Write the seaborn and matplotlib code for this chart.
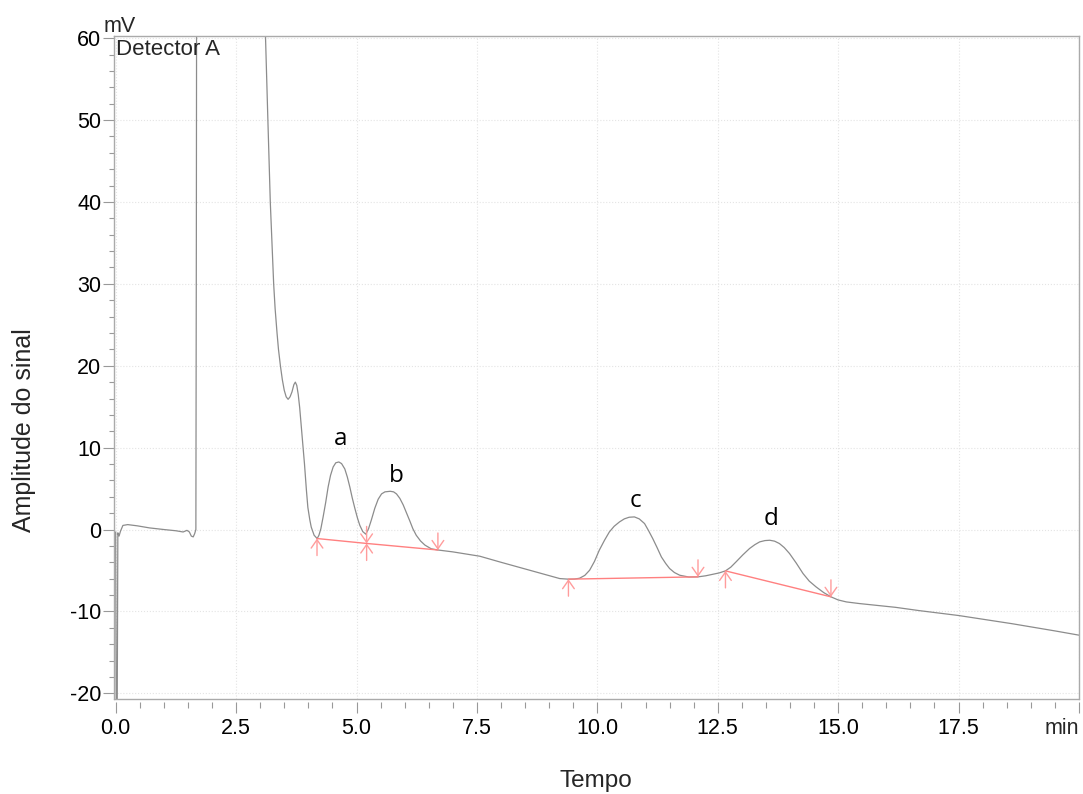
import matplotlib
matplotlib.use("Agg")
import matplotlib.pyplot as plt
from matplotlib.ticker import MultipleLocator
import seaborn as sns

# retention time (min) and detector signal (mV)
time_min = [0.000, 0.012, 0.030, 0.045, 0.070, 0.100, 0.150, 0.250, 0.450, 0.700,
            1.000, 1.250, 1.400, 1.480, 1.530, 1.570, 1.610, 1.640, 1.665, 1.675,
            1.690, 2.300, 3.050, 3.110, 3.135, 3.160, 3.185, 3.210, 3.245, 3.280,
            3.310, 3.350, 3.380, 3.420, 3.460, 3.500, 3.540, 3.580, 3.620, 3.660,
            3.700, 3.730, 3.760, 3.790, 3.820, 3.870, 3.920, 3.960, 3.990, 4.030,
            4.060, 4.120, 4.183, 4.220, 4.260, 4.307, 4.360, 4.411, 4.460, 4.515,
            4.570, 4.633, 4.690, 4.757, 4.810, 4.861, 4.910, 4.965, 5.020, 5.068,
            5.130, 5.193, 5.250, 5.310, 5.380, 5.450, 5.520, 5.590, 5.700, 5.770,
            5.830, 5.900, 5.970, 6.040, 6.110, 6.170, 6.240, 6.330, 6.420, 6.550,
            6.690, 7.000, 7.560, 8.000, 8.390, 8.800, 9.220, 9.400, 9.520, 9.630,
            9.740, 9.840, 9.940, 10.040, 10.150, 10.250, 10.350, 10.460, 10.560, 10.660,
            10.770, 10.870, 10.980, 11.060, 11.150, 11.240, 11.330, 11.420, 11.500, 11.600,
            11.710, 11.900, 12.090, 12.250, 12.400, 12.530, 12.660, 12.770, 12.880, 13.020,
            13.160, 13.270, 13.370, 13.480, 13.580, 13.680, 13.780, 13.880, 13.990, 14.130,
            14.270, 14.400, 14.540, 14.700, 14.850, 15.000, 15.170, 15.440, 16.190, 16.680,
            17.500, 18.610, 19.520, 20.000]
signal_mv = [-0.3, -25.0, -25.0, -0.4, -0.8, -0.2, 0.5, 0.6, 0.45, 0.2,
             0.0, -0.15, -0.3, -0.1, -0.3, -0.8, -0.9, -0.5, 0.0, 36.0,
             120.0, 400.0, 80.0, 60.3, 55.0, 50.0, 45.0, 40.0, 35.0, 30.0,
             27.0, 24.0, 22.0, 20.0, 18.3, 17.0, 16.2, 15.9, 16.2, 16.8,
             17.7, 18.0, 17.6, 16.5, 14.9, 11.5, 8.0, 4.8, 2.7, 1.2,
             0.3, -0.7, -1.1, -0.7, 0.1, 1.54, 3.3, 5.2, 6.6, 7.64,
             8.15, 8.25, 8.05, 7.4, 6.4, 5.2, 3.9, 2.6, 1.4, 0.52,
             -0.25, -0.57, 0.1, 1.2, 2.6, 3.7, 4.35, 4.6, 4.67, 4.6,
             4.35, 3.8, 3.0, 2.0, 1.0, 0.1, -0.7, -1.4, -1.9, -2.35,
             -2.5, -2.73, -3.26, -4.0, -4.64, -5.3, -5.99, -6.06, -6.05, -5.95,
             -5.6, -4.97, -3.9, -2.53, -1.3, -0.29, 0.4, 0.93, 1.3, 1.5,
             1.54, 1.3, 0.73, -0.1, -1.1, -2.2, -3.35, -4.15, -4.76, -5.25,
             -5.58, -5.8, -5.78, -5.65, -5.46, -5.3, -5.05, -4.6, -3.95, -3.1,
             -2.32, -1.85, -1.51, -1.35, -1.31, -1.42, -1.71, -2.2, -2.93, -4.1,
             -5.37, -6.3, -7.0, -7.7, -8.22, -8.6, -8.84, -9.04, -9.5, -9.9,
             -10.5, -11.5, -12.4, -12.9]

# integration baselines (drawn in red)
base_ab_t = [4.18, 5.21, 6.69]
base_ab_v = [-1.1, -1.7, -2.5]
base_c_t = [9.40, 12.09]
base_c_v = [-6.06, -5.78]
base_d_t = [12.66, 14.85]
base_d_v = [-5.05, -8.22]

# peak start (up arrow) and end (down arrow) markers
start_t = [4.18, 5.21, 9.40, 12.66]
start_v = [-1.1, -1.7, -6.06, -5.05]
end_t = [5.21, 6.69, 12.09, 14.85]
end_v = [-1.7, -2.5, -5.78, -8.22]

# peak names
peak_names = ["a", "b", "c", "d"]
peak_label_t = [4.68, 5.83, 10.80, 13.61]
peak_label_v = [10.3, 5.8, 2.8, 0.5]

xticks = [0.0, 2.5, 5.0, 7.5, 10.0, 12.5, 15.0, 17.5, 20.0]
xtick_labels = ["0.0", "2.5", "5.0", "7.5", "10.0", "12.5", "15.0", "17.5", ""]
x_unit = "min"
yticks = [-20, -10, 0, 10, 20, 30, 40, 50, 60]
ytick_labels = ["-20", "-10", "0", "10", "20", "30", "40", "50", "60"]

XLIM = (-0.025, 20.0)
YLIM = (-20.7, 60.3)

sns.set_theme(style="ticks")
plt.rcParams["font.family"] = ["Liberation Sans", "DejaVu Sans"]
plt.rcParams["axes.unicode_minus"] = False

fig = plt.figure(figsize=(10.83, 7.94), dpi=100)
ax = fig.add_axes([0.1057, 0.1196, 0.8906, 0.8354])

frame_col = "#aaaaaa"
tick_col = "#999999"

# chromatogram trace
sns.lineplot(x=time_min, y=signal_mv, ax=ax, color="#8c8c8c", linewidth=0.9,
             estimator=None, sort=False)

# baselines
for bt, bv in [(base_ab_t, base_ab_v), (base_c_t, base_c_v), (base_d_t, base_d_v)]:
    sns.lineplot(x=bt, y=bv, ax=ax, color="#ff8080", linewidth=1.0,
                 estimator=None, sort=False)

arrow_kw = dict(arrowstyle="->,head_length=0.6,head_width=0.42", color="#ff9c9c",
                lw=1.0, shrinkA=0, shrinkB=0, mutation_scale=10)
for t, v in zip(start_t, start_v):
    ax.annotate("", xy=(t, v), xytext=(0, -17), textcoords="offset pixels",
                arrowprops=arrow_kw)
for t, v in zip(end_t, end_v):
    ax.annotate("", xy=(t, v), xytext=(0, 17), textcoords="offset pixels",
                arrowprops=arrow_kw)

for name, t, v in zip(peak_names, peak_label_t, peak_label_v):
    ax.text(t, v, name, ha="center", va="baseline", fontsize=17.5,
            family=["Open Sans", "DejaVu Sans"], color="black")

ax.set_xlim(*XLIM)
ax.set_ylim(*YLIM)
ax.set_xticks(xticks, labels=xtick_labels)
ax.set_yticks(yticks, labels=ytick_labels)
ax.xaxis.set_minor_locator(MultipleLocator(0.5))
ax.yaxis.set_minor_locator(MultipleLocator(2))

ax.grid(True, which="major", color="#e4e4e4", linestyle=":", linewidth=0.8)

# frame: left/top/right spines, bottom drawn as a line, ticks hang below it
for side in ["left", "top", "right"]:
    ax.spines[side].set_color(frame_col)
    ax.spines[side].set_linewidth(1.0)
ax.spines["bottom"].set_position(("outward", 2.2))
ax.spines["bottom"].set_visible(False)
ax.axhline(YLIM[0], color=frame_col, linewidth=1.0, clip_on=False)

ax.tick_params(axis="both", which="major", length=8, width=0.8, color=tick_col,
               labelsize=15.5, labelcolor="black")
ax.tick_params(axis="x", which="major", pad=3.4)
ax.tick_params(axis="y", which="major", pad=1.5)
ax.tick_params(axis="x", which="minor", length=4.3, width=0.8, color=tick_col)
ax.tick_params(axis="y", which="minor", length=3.6, width=0.8, color=tick_col)

# unit label in place of the last x tick label, kept inside the figure
ax.annotate(x_unit, xy=(1, 0), xycoords="axes fraction", xytext=(0, -13.6),
            textcoords="offset points", ha="right", va="top", fontsize=15.5,
            annotation_clip=False)

ax.text(0.0016, 0.9705, "Detector A", transform=ax.transAxes, fontsize=16,
        ha="left", va="baseline")
ax.text(-0.0116, 1.006, "mV", transform=ax.transAxes, fontsize=15.5,
        ha="left", va="baseline", clip_on=False)

ax.set_xlabel("Tempo", fontsize=17.5)
ax.xaxis.label.set_va("baseline")
ax.xaxis.set_label_coords(0.4989, -0.1327)
ax.set_ylabel("Amplitude do sinal", fontsize=18)
ax.yaxis.label.set_va("center")
ax.yaxis.set_label_coords(-0.0938, 0.405)

fig.savefig("out.png", dpi=100)
